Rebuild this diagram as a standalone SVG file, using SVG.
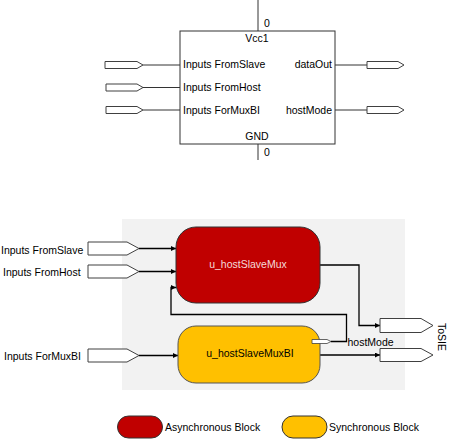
<svg xmlns="http://www.w3.org/2000/svg" width="451" height="439" viewBox="0 0 451 439">
<defs>
<style>
text{font-family:"Liberation Sans",Arial,sans-serif;font-size:10.5px;fill:#000}
.ln{fill:none;stroke:#000;stroke-width:1}
.tl{fill:none;stroke:#333;stroke-width:1}
.port{fill:#fff;stroke:#404040;stroke-width:1}
.wire{fill:none;stroke:#000;stroke-width:1.3}
</style>
<marker id="ah" viewBox="0 0 10 10" refX="10" refY="5" markerWidth="5" markerHeight="5" orient="auto" markerUnits="userSpaceOnUse">
<path d="M0,0 L10,5 L0,10 z" fill="#000"/>
</marker>
</defs>

<g id="symbol">
<line class="tl" x1="258" y1="0" x2="258" y2="31"/>
<line class="tl" x1="258" y1="144" x2="258" y2="160"/>
<rect x="180" y="31" width="155" height="113" fill="#fff" stroke="#333" stroke-width="1"/>
<text x="264" y="27">0</text>
<text x="264" y="156">0</text>
<text x="257" y="42" text-anchor="middle">Vcc1</text>
<text x="257" y="140" text-anchor="middle">GND</text>
<text x="183" y="68">Inputs FromSlave</text>
<text x="183" y="91">Inputs FromHost</text>
<text x="183" y="114">Inputs ForMuxBI</text>
<text x="332" y="68" text-anchor="end">dataOut</text>
<text x="332" y="114" text-anchor="end">hostMode</text>
<line class="tl" x1="143" y1="65" x2="180" y2="65"/>
<line class="tl" x1="143" y1="87.5" x2="180" y2="87.5"/>
<line class="tl" x1="143" y1="110" x2="180" y2="110"/>
<line class="tl" x1="335" y1="65" x2="367" y2="65"/>
<line class="tl" x1="335" y1="110" x2="367" y2="110"/>
<path class="port" d="M105,61.5 H137 L143,65 L137,68.5 H105 Z"/>
<path class="port" d="M106,84 H137 L143,87.5 L137,91 H106 Z"/>
<path class="port" d="M106,106.5 H137 L143,110 L137,113.5 H106 Z"/>
<path class="port" d="M367,61.5 H398 L404,65 L398,68.5 H367 Z"/>
<path class="port" d="M367,106.5 H398 L404,110 L398,113.5 H367 Z"/>
</g>

<rect id="bg" x="122" y="219" width="283" height="171" fill="#f2f2f2"/>

<g id="connectors">
<path class="wire" d="M139,248.5 H176" marker-end="url(#ah)"/>
<path class="wire" d="M139,271.5 H176" marker-end="url(#ah)"/>
<path class="wire" d="M139,355.5 H178" marker-end="url(#ah)"/>
<path class="wire" d="M331,341.5 H346.5 V314.5 H171 V287.5 H176" marker-end="url(#ah)"/>
<path class="wire" d="M320,265 H359 V325.5 H380" marker-end="url(#ah)"/>
<path class="wire" d="M320,355 H380" marker-end="url(#ah)"/>
</g>

<g id="in_fromslave">
<text x="1" y="254">Inputs FromSlave</text>
<path class="port" d="M88,242 H127 L139,248.5 L127,255 H88 Z"/>
</g>
<g id="in_fromhost">
<text x="3" y="275.5">Inputs FromHost</text>
<path class="port" d="M88,265 H127 L139,271.5 L127,278 H88 Z"/>
</g>
<g id="in_formuxbi">
<text x="4" y="359.5">Inputs ForMuxBI</text>
<path class="port" d="M88,349 H127 L139,355.5 L127,362 H88 Z"/>
</g>

<g id="u_hostSlaveMux">
<rect x="176" y="227" width="144" height="76" rx="20" ry="20" fill="#c00000" stroke="#333" stroke-width="1"/>
<text x="248" y="268" text-anchor="middle" style="fill:#f4dada">u_hostSlaveMux</text>
</g>

<g id="u_hostSlaveMuxBI">
<rect x="178" y="326" width="142" height="57" rx="18" ry="18" fill="#ffc000" stroke="#555" stroke-width="1"/>
<text x="250" y="357" text-anchor="middle">u_hostSlaveMuxBI</text>
<path fill="#fff" stroke="#404040" stroke-width="0.8" d="M312,339.5 H327 L331,341.5 L327,343.5 H312 Z"/>
<text x="347.5" y="345.5">hostMode</text>
</g>

<g id="tosie">
<path class="port" d="M380,318.5 H421 L433,325.5 L421,332.5 H380 Z"/>
<path class="port" d="M380,348.5 H421 L433,355 L421,361.5 H380 Z"/>
<text transform="translate(438,337) rotate(90)" text-anchor="middle">ToSIE</text>
</g>

<g id="legend">
<rect x="117.5" y="416" width="45" height="22" rx="11" ry="11" fill="#c00000" stroke="#333" stroke-width="1"/>
<text x="165" y="431">Asynchronous Block</text>
<rect x="282" y="416" width="45" height="22" rx="11" ry="11" fill="#ffc000" stroke="#333" stroke-width="1"/>
<text x="329" y="431">Synchronous Block</text>
</g>
</svg>
